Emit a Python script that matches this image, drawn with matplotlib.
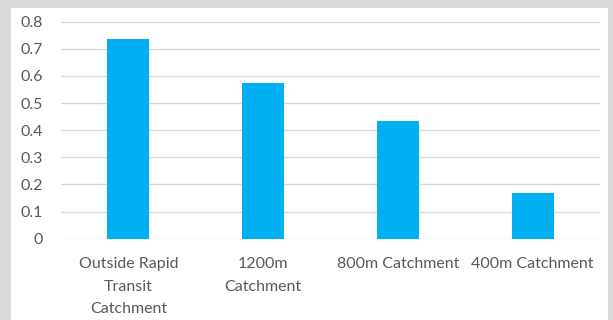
import matplotlib
matplotlib.use('Agg')
import matplotlib.pyplot as plt
from matplotlib.patches import Rectangle

categories = ['Outside Rapid\nTransit\nCatchment', '1200m\nCatchment', '800m Catchment', '400m Catchment']
values = [0.735, 0.573, 0.435, 0.17]
yticks = [0, 0.1, 0.2, 0.3, 0.4, 0.5, 0.6, 0.7, 0.8]

plt.rcParams['font.family'] = ['Lato', 'DejaVu Sans']

fig = plt.figure(figsize=(6.13, 3.2), dpi=100)
fig.patch.set_facecolor('#d9d9d9')
# white chart area inside the gray frame
fig.patches.append(Rectangle((11 / 613, 0), 597 / 613, 312 / 320,
                             transform=fig.transFigure, facecolor='white',
                             edgecolor='none', zorder=-5))

ax = fig.add_axes([61 / 613, 81.3 / 320, 539 / 613, 217 / 320])
ax.set_facecolor('none')
x = range(len(categories))
ax.bar(x, values, width=0.31, color='#00b0f0', zorder=3)

ax.set_xlim(-0.5, len(categories) - 0.5)
ax.set_ylim(0, 0.8)
ax.set_yticks(yticks)
ax.set_yticklabels(['0'] + ['%.1f' % v for v in yticks[1:]])
ax.set_xticks(list(x))
ax.set_xticklabels(categories, linespacing=1.8)
ax.grid(axis='y', color='#d9d9d9', linewidth=1, zorder=0)
ax.set_axisbelow(True)
for s in ax.spines.values():
    s.set_visible(False)
ax.tick_params(axis='both', length=0, colors='#595959', labelsize=11.5)
ax.tick_params(axis='y', pad=13)
ax.tick_params(axis='x', pad=13)

fig.savefig('out.png', dpi=100, facecolor=fig.get_facecolor())
